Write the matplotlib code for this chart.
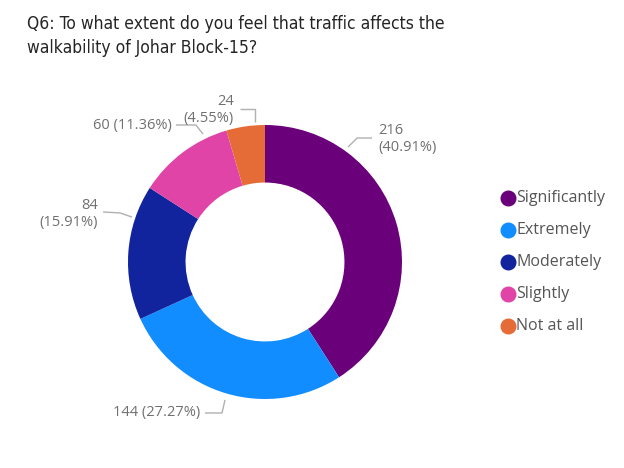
import matplotlib.pyplot as plt
from matplotlib.lines import Line2D

categories = ["Significantly", "Extremely", "Moderately", "Slightly", "Not at all"]
counts = [216, 144, 84, 60, 24]
colors = ["#6B007B", "#118DFF", "#12239E", "#E044A7", "#E66C37"]

title = "Q6: To what extent do you feel that traffic affects the\nwalkability of Johar Block-15?"

# leader line points and text anchor per slice (data units, donut radius = 1)
label_layout = [
    ([(0.606, 0.839), (0.672, 0.905), (0.781, 0.905)], (0.825, 0.898), "left", True),
    ([(-0.292, -1.007), (-0.314, -1.102), (-0.438, -1.102)], (-0.474, -1.102), "right", False),
    ([(-0.971, 0.328), (-1.058, 0.358), (-1.182, 0.365)], (-1.219, 0.350), "right", True),
    ([(-0.453, 0.934), (-0.504, 1.0), (-0.650, 1.0)], (-0.679, 1.0), "right", False),
    ([(-0.073, 1.022), (-0.073, 1.117), (-0.182, 1.117)], (-0.226, 1.109), "right", True),
]

W, H = 624, 468
fig = plt.figure(figsize=(W / 100, H / 100), dpi=100)
fig.patch.set_facecolor("white")

# donut centre at (265, 262) px, outer radius 137 px
R = 137
cx, cy = 265, 262
half = 1.4 * R
ax = fig.add_axes([(cx - half) / W, (H - cy - half) / H, 2 * half / W, 2 * half / H])
ax.set_aspect("equal")
ax.axis("off")

ax.pie(counts, colors=colors, startangle=90, counterclock=False, radius=1.0,
       wedgeprops=dict(width=0.42, linewidth=0))
ax.set_xlim(-1.4, 1.4)
ax.set_ylim(-1.4, 1.4)

total = sum(counts)
for val, (pts, tpos, ha, two_lines) in zip(counts, label_layout):
    xs = [p[0] for p in pts]
    ys = [p[1] for p in pts]
    ax.plot(xs, ys, color="#B0B0B0", lw=1.0, solid_capstyle="butt")
    pct = val / total * 100
    sep = "\n" if two_lines else " "
    ax.text(tpos[0], tpos[1], f"{val}{sep}({pct:.2f}%)", ha=ha, va="center",
            fontsize=10.5, color="#707070", family="Open Sans", linespacing=1.2)

fig.text(27 / W, 1 - 15 / H, title, ha="left", va="top", fontsize=12.5,
         color="#252525", family="DejaVu Sans", fontstretch="condensed",
         fontweight="normal", linespacing=1.42)

# legend
leg_y = [198, 230, 262, 294, 326]
for name, col, y in zip(categories, colors, leg_y):
    fig.add_artist(Line2D([508 / W], [1 - y / H], marker="o", markersize=10.5,
                          color=col, transform=fig.transFigure))
    fig.text(516 / W, 1 - y / H, name, ha="left", va="center", fontsize=11.5,
             color="#555555", family="Open Sans")

fig.savefig("out.png", dpi=100, facecolor="white")
